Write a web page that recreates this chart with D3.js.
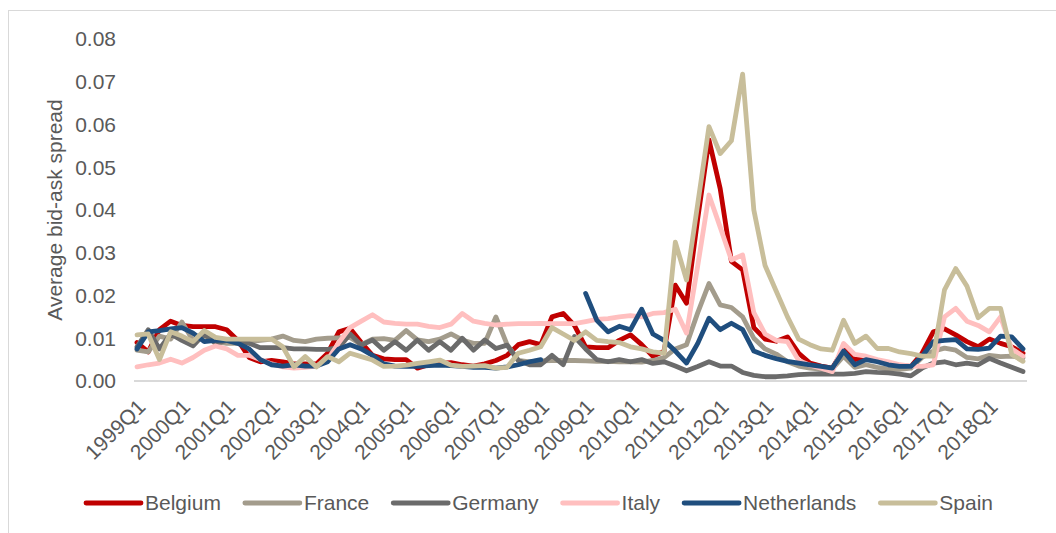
<!DOCTYPE html>
<html>
<head>
<meta charset="utf-8">
<script src="https://cdn.jsdelivr.net/npm/d3@7"></script>
<style>
  body { margin: 0; background: #fff; }
  svg { display: block; font-family: "Liberation Sans", Arial, sans-serif; }
</style>
</head>
<body>
<svg width="1056" height="533"></svg>
<script>
// quarters 1999Q1 .. 2018Q4
var years = [1999, 2000, 2001, 2002, 2003, 2004, 2005, 2006, 2007, 2008, 2009,
             2010, 2011, 2012, 2013, 2014, 2015, 2016, 2017, 2018];
var quarters = [];
years.forEach(function(y){ [1,2,3,4].forEach(function(q){ quarters.push(y + "Q" + q) }) });

var yTicks = [0, 0.01, 0.02, 0.03, 0.04, 0.05, 0.06, 0.07, 0.08];

var countries = ["Belgium", "France", "Germany", "Italy", "Netherlands", "Spain"];
var colors = ["#c00000", "#a39c8c", "#6b6b6b", "#ffbfbf", "#1f4e7e", "#c8be9a"];

var belgium = [0.009,0.0068,0.012,0.014,0.013,0.0127,0.0127,0.0127,0.012,0.0095,
  0.0055,0.0045,0.0048,0.0045,0.004,0.004,0.004,0.0065,0.0115,0.0123,
  0.009,0.006,0.0052,0.005,0.005,0.003,0.0038,0.0042,0.0043,0.0038,
  0.0035,0.004,0.0048,0.006,0.0085,0.0092,0.0085,0.015,0.0158,0.013,
  0.008,0.0078,0.0078,0.0095,0.0108,0.0085,0.0058,0.007,0.0224,0.0182,
  0.038,0.0564,0.045,0.028,0.026,0.0125,0.0098,0.0093,0.0103,0.0065,
  0.0042,0.0035,0.003,0.0075,0.005,0.0055,0.0048,0.0042,0.0036,0.0034,
  0.0065,0.0115,0.0122,0.0108,0.0092,0.008,0.0098,0.0088,0.008,0.0065];

var france = [0.0072,0.0068,0.0105,0.0098,0.0138,0.0095,0.0105,0.0092,0.0088,0.0088,
  0.0092,0.0095,0.0098,0.0105,0.0095,0.0092,0.0098,0.01,0.0101,0.0102,
  0.0085,0.0098,0.0099,0.0095,0.0118,0.0096,0.0092,0.0098,0.011,0.0096,
  0.0088,0.0088,0.015,0.0085,0.0048,0.0045,0.0047,0.0048,0.0048,0.0048,
  0.0047,0.0046,0.0046,0.0045,0.0045,0.0044,0.0048,0.0055,0.0075,0.0085,
  0.016,0.0228,0.0178,0.0172,0.015,0.01,0.0075,0.0063,0.0045,0.0035,
  0.003,0.0028,0.0028,0.0058,0.0032,0.0038,0.0032,0.0028,0.0027,0.003,
  0.0055,0.007,0.0077,0.0072,0.0055,0.0052,0.006,0.0057,0.0058,0.0054];

var germany = [0.008,0.012,0.0075,0.011,0.0095,0.0082,0.011,0.0088,0.0095,0.0092,
  0.0088,0.0078,0.0078,0.0078,0.0075,0.0075,0.0074,0.0074,0.0078,0.011,
  0.0084,0.0096,0.0072,0.0092,0.0072,0.0096,0.0072,0.0092,0.0072,0.01,
  0.0072,0.0096,0.0076,0.0084,0.0048,0.0038,0.0038,0.006,0.0038,0.0104,
  0.0075,0.005,0.0045,0.005,0.0045,0.005,0.0041,0.0045,0.0035,0.0024,
  0.0034,0.0045,0.0035,0.0035,0.002,0.0013,0.001,0.001,0.0012,0.0015,
  0.0016,0.0017,0.0016,0.0016,0.0018,0.0022,0.002,0.0019,0.0016,0.0012,
  0.003,0.0042,0.0045,0.0038,0.0042,0.0038,0.0053,0.0042,0.0032,0.0022];

var italy = [0.0033,0.0038,0.0042,0.0051,0.0042,0.0055,0.0072,0.0082,0.0075,0.006,
  0.006,0.005,0.004,0.0033,0.003,0.0032,0.0035,0.005,0.009,0.0125,
  0.014,0.0155,0.0138,0.0135,0.0133,0.0133,0.0128,0.0125,0.0133,0.0158,
  0.014,0.0135,0.0131,0.0133,0.0134,0.0134,0.0135,0.0134,0.0134,0.0134,
  0.0139,0.0144,0.0146,0.015,0.0153,0.015,0.0158,0.016,0.0168,0.0112,
  0.027,0.0435,0.036,0.0283,0.0295,0.016,0.011,0.0095,0.0092,0.0048,
  0.0037,0.003,0.0022,0.0088,0.0062,0.0058,0.005,0.0045,0.0038,0.0035,
  0.0034,0.0038,0.015,0.017,0.014,0.013,0.0115,0.015,0.0075,0.0058];

// no quotes for 2008Q2-2008Q4
var netherlands = [0.0075,0.0115,0.0118,0.0122,0.0125,0.0112,0.0092,0.0095,0.0095,0.0088,
  0.0075,0.005,0.0038,0.0035,0.0038,0.0035,0.0035,0.0045,0.0075,0.0085,
  0.0075,0.006,0.004,0.0035,0.0034,0.0034,0.0036,0.0037,0.0036,0.0034,
  0.0032,0.0032,0.003,0.0033,0.0038,0.0045,0.005,null,null,null,
  0.0205,0.0142,0.0115,0.0128,0.012,0.0168,0.011,0.0095,0.007,0.0042,
  0.0088,0.0147,0.012,0.0135,0.012,0.007,0.006,0.0052,0.0046,0.0042,
  0.0038,0.0034,0.003,0.007,0.0038,0.005,0.0045,0.0038,0.0034,0.0034,
  0.0058,0.0092,0.0095,0.0097,0.0075,0.0074,0.0077,0.0105,0.0103,0.0075];

var spain = [0.0108,0.011,0.005,0.0115,0.0105,0.0092,0.0118,0.0102,0.0098,0.0098,
  0.0098,0.0098,0.0098,0.008,0.0033,0.0057,0.0033,0.0057,0.0045,0.0065,
  0.0057,0.0049,0.0034,0.0035,0.0037,0.0041,0.0045,0.0049,0.0037,0.0034,
  0.0035,0.0036,0.003,0.0032,0.0065,0.0072,0.008,0.0125,0.011,0.0095,
  0.0115,0.0095,0.0092,0.009,0.008,0.0075,0.0068,0.0065,0.0325,0.0236,
  0.0415,0.0595,0.0532,0.0562,0.0718,0.040,0.027,0.021,0.015,0.0098,
  0.0085,0.0075,0.0072,0.0142,0.0088,0.0105,0.0076,0.0076,0.0068,0.0064,
  0.0058,0.0058,0.0213,0.0263,0.0222,0.0148,0.017,0.017,0.0062,0.0046];

var series = [belgium, france, germany, italy, netherlands, spain];

var svg = d3.select("svg");
var textColor = "#595959";

// chart frame (left and top edge only are inside the picture)
svg.append("line").attr("x1", 8.5).attr("x2", 8.5).attr("y1", 10).attr("y2", 533)
  .attr("stroke", "#d9d9d9").attr("stroke-width", 1);
svg.append("line").attr("x1", 8).attr("x2", 1056).attr("y1", 10.5).attr("y2", 10.5)
  .attr("stroke", "#d9d9d9").attr("stroke-width", 1);

var x = d3.scalePoint()
  .domain(quarters)
  .range([137, 1023]);

var y = d3.scaleLinear()
  .domain([0, 0.08])
  .range([381, 39]);

// baseline
svg.append("line")
  .attr("x1", x(quarters[0]) - 3).attr("x2", x(quarters[quarters.length - 1]) + 4)
  .attr("y1", y(0)).attr("y2", y(0))
  .attr("stroke", "#d9d9d9").attr("stroke-width", 2);

// y axis labels
svg.append("g")
  .selectAll("text")
  .data(yTicks)
  .enter()
  .append("text")
    .attr("x", 116)
    .attr("y", function(d){ return y(d) })
    .attr("dy", "0.35em")
    .attr("text-anchor", "end")
    .style("font-size", "21px")
    .style("fill", textColor)
    .text(d3.format(".2f"));

// x axis labels, rotated
var xAxis = d3.axisBottom(x)
  .tickValues(quarters.filter(function(d){ return /Q1$/.test(d) }))
  .tickSize(0);

var gx = svg.append("g")
  .attr("transform", "translate(0," + y(0) + ")")
  .call(xAxis);
gx.select(".domain").remove();
gx.selectAll("text")
  .attr("x", 0).attr("y", 0).attr("dy", "0.35em")
  .attr("transform", "translate(4,22) rotate(-45)")
  .style("text-anchor", "end")
  .style("font-size", "21px")
  .style("font-family", "\"Liberation Sans\", Arial, sans-serif")
  .style("fill", textColor);

// y title
svg.append("text")
  .attr("transform", "translate(55,210) rotate(-90)")
  .attr("dy", "0.35em")
  .attr("text-anchor", "middle")
  .style("font-size", "21px")
  .style("fill", textColor)
  .text("Average bid-ask spread");

// lines
var line = d3.line()
  .defined(function(d){ return d != null })
  .x(function(d, i){ return x(quarters[i]) })
  .y(function(d){ return y(d) });

svg.append("g")
  .selectAll("path")
  .data(series)
  .enter()
  .append("path")
    .attr("d", line)
    .attr("fill", "none")
    .attr("stroke", function(d, i){ return colors[i] })
    .attr("stroke-width", 4.8)
    .attr("stroke-linejoin", "round")
    .attr("stroke-linecap", "round");

// legend
var legend = svg.append("g");
var lx = 86, ly = 503;
countries.forEach(function(name, i){
  legend.append("line")
    .attr("x1", lx).attr("x2", lx + 55).attr("y1", ly).attr("y2", ly)
    .attr("stroke", colors[i]).attr("stroke-width", 4.8).attr("stroke-linecap", "round");
  var t = legend.append("text")
    .attr("x", lx + 59).attr("y", ly).attr("dy", "0.35em")
    .style("font-size", "21px")
    .style("fill", textColor)
    .text(name);
  lx = lx + 59 + t.node().getComputedTextLength() + 24;
});
</script>
</body>
</html>
